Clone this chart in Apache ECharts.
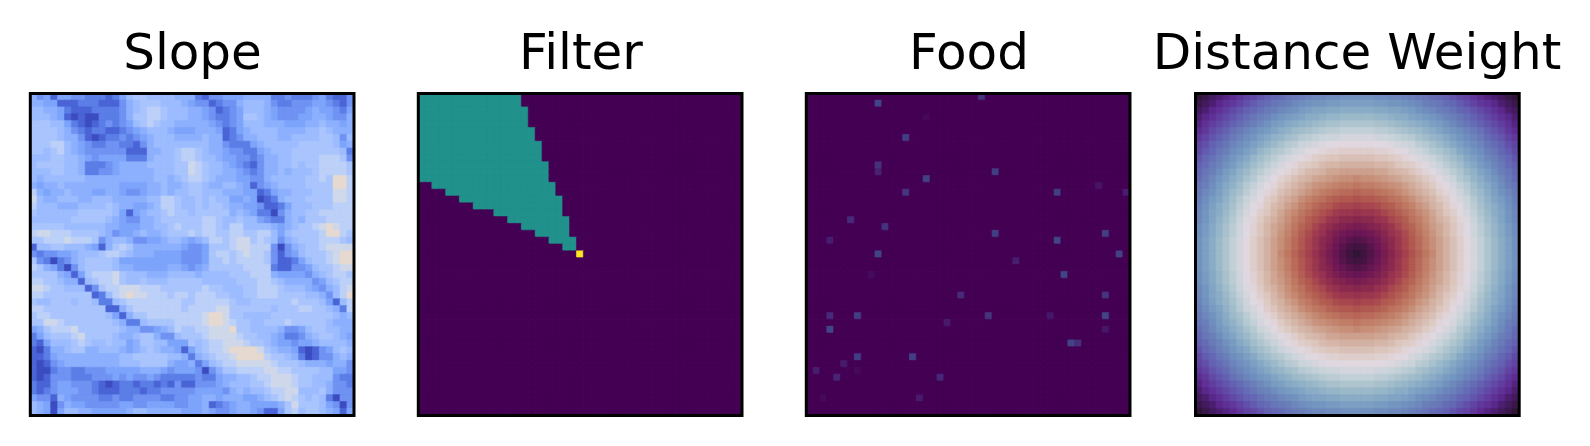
<!DOCTYPE html>
<html>
<head>
<meta charset="utf-8">
<style>html,body{margin:0;padding:0;background:#fff}#c{width:1590px;height:446px}</style>
<script src="https://cdn.jsdelivr.net/npm/echarts@6/dist/echarts.min.js"></script>
</head>
<body>
<div id="c"></div>
<script>
const panelTitles = ["Slope", "Filter", "Food", "Distance Weight"];
const gridSize = 47;

// Slope: level per cell, 0 (deepest blue) to a (pale tan); spaces are only for reading
const slopeRows = [
"5341443322 2124677666 6555213344 4555522322 2342113",
"5544111222 1113567776 6654331233 5666532233 3443213",
"6655421112 2223567887 6665543123 4666543333 4544324",
"6665410100 2223577887 6665543223 4776543334 4554335",
"7776642101 2323467876 6555554323 4666555444 5565545",
"7777653212 2112345666 5444555412 4566665555 6676555",
"7777655310 1223234566 6555565512 3556665566 6677636",
"7778865432 2332213566 6666665532 2245666667 7777645",
"7767865433 3333111556 6788765543 3224566677 7777762",
"6667766543 4444222566 6788766544 3323556677 7788873",
"6777766522 2345555666 6779876654 3213556676 7788887",
"6667766522 3345555566 6779876655 4323556566 6788887",
"6566666655 5555555566 5678876555 4433566666 7787aa8",
"5455655555 5554444556 5567765566 5413456666 7777aa8",
"8545565554 4554334556 5667766655 5441245566 6777998",
"9655666556 6655555668 8766767664 4540125666 7777998",
"8666555666 6765544568 8766767765 5443112466 6777888",
"7666666777 7764145667 8776777775 6542203566 7788888",
"6666667777 7654335567 7777788766 7664322565 7778888",
"7777766666 6554445566 7877788768 8666654567 789a988",
"8998887777 6534456556 7778788778 8778864677 778aa87",
"7788898887 3566533445 6654568878 9978763567 7788876",
"1667766654 1578755555 5543347778 9988830356 7789999",
"3233445666 7887655544 4433347887 8988731346 77789aa",
"7320235677 7764444444 4433347787 8888731124 67789aa",
"8754203677 7765544444 5543457777 7888821133 4677899",
"7777541478 8897666555 6666566667 7788854444 3567887",
"8877655167 8897667666 7777766666 7778876555 5346788",
"9987766613 7889998887 7777787766 6778887666 5435689",
"8877777771 2689a99888 7887888776 6778887777 665368a",
"7667776776 2267888888 8877888887 6677777787 7764168",
"8877777777 7115788888 8878888997 7777767778 8776528",
"7887777777 7641577888 888889aa97 7666677777 7777656",
"7799877777 7765226777 788889aa98 7766777877 7776555",
"4578889777 7776553345 687788999a 7766665334 6776655",
"2467778977 7765567753 3677789999 8776654223 5677654",
"2146667876 6766457766 4447678899 9877654434 4566665",
"1025567755 6665456765 541467889a aaa9765541 0134676",
"1124555555 5556677777 6652567889 aaaa877652 0133565",
"1013455555 5556667777 5445246788 9999987776 5554553",
"1002332233 3444445554 3444303577 8888998877 7766443",
"1013332223 3343433432 2222322455 6678899987 7666322",
"2113443332 1012212212 1311333456 6677899987 7665332",
"2123444332 1112221223 3333444435 6566788996 6675333",
"4331543333 2232233332 2334455455 5445678987 6762033",
"6540354433 3334433444 4334451234 5544445797 7764303",
"6540466554 4444566555 5544454334 5543114786 7765414"
];

// Filter: teal runs as [row, first column, column after last]
const filterRuns = [
[0,0,15],[1,0,15],[2,0,16],[3,0,16],[4,0,16],[5,0,17],[6,0,17],[7,0,18],[8,0,18],[9,0,18],
[10,0,19],[11,0,19],[12,0,19],[13,2,20],[14,4,20],[15,6,21],[16,8,21],[17,11,21],[18,13,22],
[19,15,22],[20,17,22],[21,19,23],[22,21,23]
];
const filterTealValue = 0.5;
const filterAgent = [23, 23, 1];

// Food: [column, row, value] of the non-zero cells
const foodCells = [
[10,1,.2],[25,0,.15],[17,3,.02],[14,6,.18],[10,10,.14],[10,11,.09],[17,12,.19],[27,11,.18],
[14,14,.15],[36,14,.18],[42,13,.05],[46,14,.08],[6,18,.12],[11,19,.14],[3,21,.08],[27,20,.18],
[36,21,.2],[43,20,.18],[10,23,.2],[45,23,.19],[30,24,.08],[9,26,.03],[37,26,.2],[22,29,.12],
[43,29,.15],[3,32,.12],[7,32,.18],[26,32,.15],[35,32,.06],[43,32,.2],[20,33,.07],[3,34,.21],
[43,34,.06],[38,36,.2],[39,36,.13],[7,38,.18],[15,38,.19],[5,39,.07],[1,40,.08],[7,40,.02],
[4,41,.1],[19,41,.11],[2,44,.02],[16,44,.07]
];

// Distance Weight: value per cell, 0 to 99
const distanceRows = [
[0,2,4,6,8,10,12,14,15,17,19,20,21,23,24,25,26,27,27,28,28,29,29,29,29,29,28,28,27,27,26,25,24,23,21,20,19,17,15,14,12,10,8,6,4,2,0],
[2,4,6,9,11,12,14,16,18,20,21,23,24,25,27,28,29,30,30,31,31,32,32,32,32,32,31,31,30,30,29,28,27,25,24,23,21,20,18,16,14,12,11,9,6,4,2],
[4,6,9,11,13,15,17,19,20,22,24,25,27,28,29,31,32,33,33,34,34,35,35,35,35,35,34,34,33,33,32,31,29,28,27,25,24,22,20,19,17,15,13,11,9,6,4],
[6,9,11,13,15,17,19,21,23,25,26,28,30,31,32,33,35,35,36,37,37,38,38,38,38,38,37,37,36,35,35,33,32,31,30,28,26,25,23,21,19,17,15,13,11,9,6],
[8,11,13,15,17,19,21,23,25,27,29,31,32,34,35,36,37,38,39,40,40,41,41,41,41,41,40,40,39,38,37,36,35,34,32,31,29,27,25,23,21,19,17,15,13,11,8],
[10,12,15,17,19,22,24,26,28,30,31,33,35,36,38,39,40,41,42,43,43,44,44,44,44,44,43,43,42,41,40,39,38,36,35,33,31,30,28,26,24,22,19,17,15,12,10],
[12,14,17,19,21,24,26,28,30,32,34,36,37,39,40,42,43,44,45,46,46,47,47,47,47,47,46,46,45,44,43,42,40,39,37,36,34,32,30,28,26,24,21,19,17,14,12],
[14,16,19,21,23,26,28,30,32,34,36,38,40,42,43,45,46,47,48,49,49,50,50,50,50,50,49,49,48,47,46,45,43,42,40,38,36,34,32,30,28,26,23,21,19,16,14],
[15,18,20,23,25,28,30,32,34,37,39,41,42,44,46,47,49,50,51,52,52,53,53,53,53,53,52,52,51,50,49,47,46,44,42,41,39,37,34,32,30,28,25,23,20,18,15],
[17,20,22,25,27,30,32,34,37,39,41,43,45,47,48,50,51,53,54,55,55,56,56,56,56,56,55,55,54,53,51,50,48,47,45,43,41,39,37,34,32,30,27,25,22,20,17],
[19,21,24,26,29,31,34,36,39,41,43,45,47,49,51,53,54,55,57,58,58,59,59,59,59,59,58,58,57,55,54,53,51,49,47,45,43,41,39,36,34,31,29,26,24,21,19],
[20,23,25,28,31,33,36,38,41,43,45,47,49,51,53,55,57,58,59,61,61,62,62,62,62,62,61,61,59,58,57,55,53,51,49,47,45,43,41,38,36,33,31,28,25,23,20],
[21,24,27,30,32,35,37,40,42,45,47,49,52,54,56,58,59,61,62,63,64,65,65,66,65,65,64,63,62,61,59,58,56,54,52,49,47,45,42,40,37,35,32,30,27,24,21],
[23,25,28,31,34,36,39,42,44,47,49,51,54,56,58,60,62,64,65,66,67,68,68,69,68,68,67,66,65,64,62,60,58,56,54,51,49,47,44,42,39,36,34,31,28,25,23],
[24,27,29,32,35,38,40,43,46,48,51,53,56,58,60,62,64,66,68,69,70,71,71,72,71,71,70,69,68,66,64,62,60,58,56,53,51,48,46,43,40,38,35,32,29,27,24],
[25,28,31,33,36,39,42,45,47,50,53,55,58,60,62,65,67,69,70,72,73,74,74,75,74,74,73,72,70,69,67,65,62,60,58,55,53,50,47,45,42,39,36,33,31,28,25],
[26,29,32,35,37,40,43,46,49,51,54,57,59,62,64,67,69,71,73,74,76,77,77,78,77,77,76,74,73,71,69,67,64,62,59,57,54,51,49,46,43,40,37,35,32,29,26],
[27,30,33,35,38,41,44,47,50,53,55,58,61,64,66,69,71,73,75,77,79,80,80,81,80,80,79,77,75,73,71,69,66,64,61,58,55,53,50,47,44,41,38,35,33,30,27],
[27,30,33,36,39,42,45,48,51,54,57,59,62,65,68,70,73,75,77,80,81,83,83,84,83,83,81,80,77,75,73,70,68,65,62,59,57,54,51,48,45,42,39,36,33,30,27],
[28,31,34,37,40,43,46,49,52,55,58,61,63,66,69,72,74,77,80,82,84,85,86,87,86,85,84,82,80,77,74,72,69,66,63,61,58,55,52,49,46,43,40,37,34,31,28],
[28,31,34,37,40,43,46,49,52,55,58,61,64,67,70,73,76,79,81,84,86,88,89,90,89,88,86,84,81,79,76,73,70,67,64,61,58,55,52,49,46,43,40,37,34,31,28],
[29,32,35,38,41,44,47,50,53,56,59,62,65,68,71,74,77,80,83,85,88,90,92,93,92,90,88,85,83,80,77,74,71,68,65,62,59,56,53,50,47,44,41,38,35,32,29],
[29,32,35,38,41,44,47,50,53,56,59,62,65,68,71,74,77,80,83,86,89,92,95,96,95,92,89,86,83,80,77,74,71,68,65,62,59,56,53,50,47,44,41,38,35,32,29],
[29,32,35,38,41,44,47,50,53,56,59,62,66,69,72,75,78,81,84,87,90,93,96,99,96,93,90,87,84,81,78,75,72,69,66,62,59,56,53,50,47,44,41,38,35,32,29],
[29,32,35,38,41,44,47,50,53,56,59,62,65,68,71,74,77,80,83,86,89,92,95,96,95,92,89,86,83,80,77,74,71,68,65,62,59,56,53,50,47,44,41,38,35,32,29],
[29,32,35,38,41,44,47,50,53,56,59,62,65,68,71,74,77,80,83,85,88,90,92,93,92,90,88,85,83,80,77,74,71,68,65,62,59,56,53,50,47,44,41,38,35,32,29],
[28,31,34,37,40,43,46,49,52,55,58,61,64,67,70,73,76,79,81,84,86,88,89,90,89,88,86,84,81,79,76,73,70,67,64,61,58,55,52,49,46,43,40,37,34,31,28],
[28,31,34,37,40,43,46,49,52,55,58,61,63,66,69,72,74,77,80,82,84,85,86,87,86,85,84,82,80,77,74,72,69,66,63,61,58,55,52,49,46,43,40,37,34,31,28],
[27,30,33,36,39,42,45,48,51,54,57,59,62,65,68,70,73,75,77,80,81,83,83,84,83,83,81,80,77,75,73,70,68,65,62,59,57,54,51,48,45,42,39,36,33,30,27],
[27,30,33,35,38,41,44,47,50,53,55,58,61,64,66,69,71,73,75,77,79,80,80,81,80,80,79,77,75,73,71,69,66,64,61,58,55,53,50,47,44,41,38,35,33,30,27],
[26,29,32,35,37,40,43,46,49,51,54,57,59,62,64,67,69,71,73,74,76,77,77,78,77,77,76,74,73,71,69,67,64,62,59,57,54,51,49,46,43,40,37,35,32,29,26],
[25,28,31,33,36,39,42,45,47,50,53,55,58,60,62,65,67,69,70,72,73,74,74,75,74,74,73,72,70,69,67,65,62,60,58,55,53,50,47,45,42,39,36,33,31,28,25],
[24,27,29,32,35,38,40,43,46,48,51,53,56,58,60,62,64,66,68,69,70,71,71,72,71,71,70,69,68,66,64,62,60,58,56,53,51,48,46,43,40,38,35,32,29,27,24],
[23,25,28,31,34,36,39,42,44,47,49,51,54,56,58,60,62,64,65,66,67,68,68,69,68,68,67,66,65,64,62,60,58,56,54,51,49,47,44,42,39,36,34,31,28,25,23],
[21,24,27,30,32,35,37,40,42,45,47,49,52,54,56,58,59,61,62,63,64,65,65,66,65,65,64,63,62,61,59,58,56,54,52,49,47,45,42,40,37,35,32,30,27,24,21],
[20,23,25,28,31,33,36,38,41,43,45,47,49,51,53,55,57,58,59,61,61,62,62,62,62,62,61,61,59,58,57,55,53,51,49,47,45,43,41,38,36,33,31,28,25,23,20],
[19,21,24,26,29,31,34,36,39,41,43,45,47,49,51,53,54,55,57,58,58,59,59,59,59,59,58,58,57,55,54,53,51,49,47,45,43,41,39,36,34,31,29,26,24,21,19],
[17,20,22,25,27,30,32,34,37,39,41,43,45,47,48,50,51,53,54,55,55,56,56,56,56,56,55,55,54,53,51,50,48,47,45,43,41,39,37,34,32,30,27,25,22,20,17],
[15,18,20,23,25,28,30,32,34,37,39,41,42,44,46,47,49,50,51,52,52,53,53,53,53,53,52,52,51,50,49,47,46,44,42,41,39,37,34,32,30,28,25,23,20,18,15],
[14,16,19,21,23,26,28,30,32,34,36,38,40,42,43,45,46,47,48,49,49,50,50,50,50,50,49,49,48,47,46,45,43,42,40,38,36,34,32,30,28,26,23,21,19,16,14],
[12,14,17,19,21,24,26,28,30,32,34,36,37,39,40,42,43,44,45,46,46,47,47,47,47,47,46,46,45,44,43,42,40,39,37,36,34,32,30,28,26,24,21,19,17,14,12],
[10,12,15,17,19,22,24,26,28,30,31,33,35,36,38,39,40,41,42,43,43,44,44,44,44,44,43,43,42,41,40,39,38,36,35,33,31,30,28,26,24,22,19,17,15,12,10],
[8,11,13,15,17,19,21,23,25,27,29,31,32,34,35,36,37,38,39,40,40,41,41,41,41,41,40,40,39,38,37,36,35,34,32,31,29,27,25,23,21,19,17,15,13,11,8],
[6,9,11,13,15,17,19,21,23,25,26,28,30,31,32,33,35,35,36,37,37,38,38,38,38,38,37,37,36,35,35,33,32,31,30,28,26,25,23,21,19,17,15,13,11,9,6],
[4,6,9,11,13,15,17,19,20,22,24,25,27,28,29,31,32,33,33,34,34,35,35,35,35,35,34,34,33,33,32,31,29,28,27,25,24,22,20,19,17,15,13,11,9,6,4],
[2,4,6,9,11,12,14,16,18,20,21,23,24,25,27,28,29,30,30,31,31,32,32,32,32,32,31,31,30,30,29,28,27,25,24,23,21,20,18,16,14,12,11,9,6,4,2],
[0,2,4,6,8,10,12,14,15,17,19,20,21,23,24,25,26,27,27,28,28,29,29,29,29,29,28,28,27,27,26,25,24,23,21,20,19,17,15,14,12,10,8,6,4,2,0]
];

const coolwarmLow = ["#3b4cc0","#4a64d6","#5b7de6","#6f92f3","#7da4fb","#8db0fe","#9cbcff","#aac5fd","#bcd0f8","#cfd8ea","#e6d9d0"];
const viridis = ["#440154","#482475","#414487","#355f8d","#2a788e","#21918c","#22a884","#44bf70","#7ad151","#bddf26","#fde725"];
const twilightShifted = ["#2f1436","#471b66","#5e2a92","#6248a6","#6466b4","#6a7eb9","#7295c0","#88abc6","#a5c0cc","#c6d2d8","#e2d9e2","#dcc8c0","#d2af9f","#c8927c","#bd755f","#b0564f","#9f394f","#85254f","#6b1656","#4a1445","#2f1436"];

const panelLefts = [30.3, 418.3, 806.3, 1195.5];
const panelTop = 93.5, panelWidth = 323.7, panelHeight = 322;
const titleCentres = [192.5, 581, 969, 1357];

const axisIndices = Array.from({length: gridSize}, (_, i) => i);
function slopeCells(rows) {
  const out = [];
  rows.forEach((r, y) => {
    const s = r.replace(/ /g, "");
    for (let x = 0; x < s.length; x++) out.push([x, y, parseInt(s[x], 36)]);
  });
  return out;
}
function emptyField() {
  return Array.from({length: gridSize}, () => new Array(gridSize).fill(0));
}
const filterField = emptyField();
filterRuns.forEach(([row, a, b]) => { for (let x = a; x < b; x++) filterField[row][x] = filterTealValue; });
filterField[filterAgent[0]][filterAgent[1]] = filterAgent[2];
const foodField = emptyField();
foodCells.forEach(([x, y, v]) => { foodField[y][x] = v; });
const fieldCells = f => f.flatMap((r, y) => r.map((v, x) => [x, y, v]));

const panelData = [slopeCells(slopeRows), fieldCells(filterField), fieldCells(foodField), fieldCells(distanceRows)];
const panelScale = [[0, 10, coolwarmLow], [0, 1, viridis], [0, 1, viridis], [0, 99, twilightShifted]];

// Same colour as the fill, used as a hairline stroke so neighbouring cells leave no seams
function strokeFor(v, [min, max, list]) {
  const t = (v - min) / (max - min) * (list.length - 1);
  const i = Math.min(Math.floor(t), list.length - 2), f = t - i;
  const hex = s => [1, 3, 5].map(k => parseInt(s.substr(k, 2), 16));
  const a = hex(list[i]), b = hex(list[i + 1]);
  return "rgb(" + a.map((c, k) => Math.round(c + (b[k] - c) * f)).join(",") + ")";
}

const option = {
  animation: false,
  backgroundColor: "#ffffff",
  title: panelTitles.map((t, i) => ({
    text: t, left: titleCentres[i], top: 31, textAlign: "center", padding: 0,
    textStyle: {fontFamily: "DejaVu Sans", fontSize: 50, fontWeight: "normal", color: "#000000"}
  })),
  grid: panelLefts.map(l => ({
    show: true, left: l, top: panelTop, width: panelWidth, height: panelHeight,
    containLabel: false, z: 5, backgroundColor: "transparent", borderColor: "#000000", borderWidth: 3
  })),
  xAxis: panelLefts.map((_, i) => ({
    type: "category", gridIndex: i, data: axisIndices,
    axisLine: {show: false}, axisTick: {show: false}, axisLabel: {show: false}, splitLine: {show: false}
  })),
  yAxis: panelLefts.map((_, i) => ({
    type: "category", gridIndex: i, data: axisIndices, inverse: true,
    axisLine: {show: false}, axisTick: {show: false}, axisLabel: {show: false}, splitLine: {show: false}
  })),
  visualMap: panelScale.map(([min, max, color], i) => ({
    show: false, type: "continuous", seriesIndex: i, min, max, dimension: 2, inRange: {color}
  })),
  series: panelData.map((data, i) => ({
    type: "heatmap", xAxisIndex: i, yAxisIndex: i, progressive: 0, z: 2,
    data: data.map(c => ({value: c, itemStyle: {borderWidth: 0.6, borderColor: strokeFor(c[2], panelScale[i])}})),
    emphasis: {disabled: true}
  }))
};
echarts.init(document.getElementById("c"), null, {renderer: "canvas"}).setOption(option);
</script>
</body>
</html>
